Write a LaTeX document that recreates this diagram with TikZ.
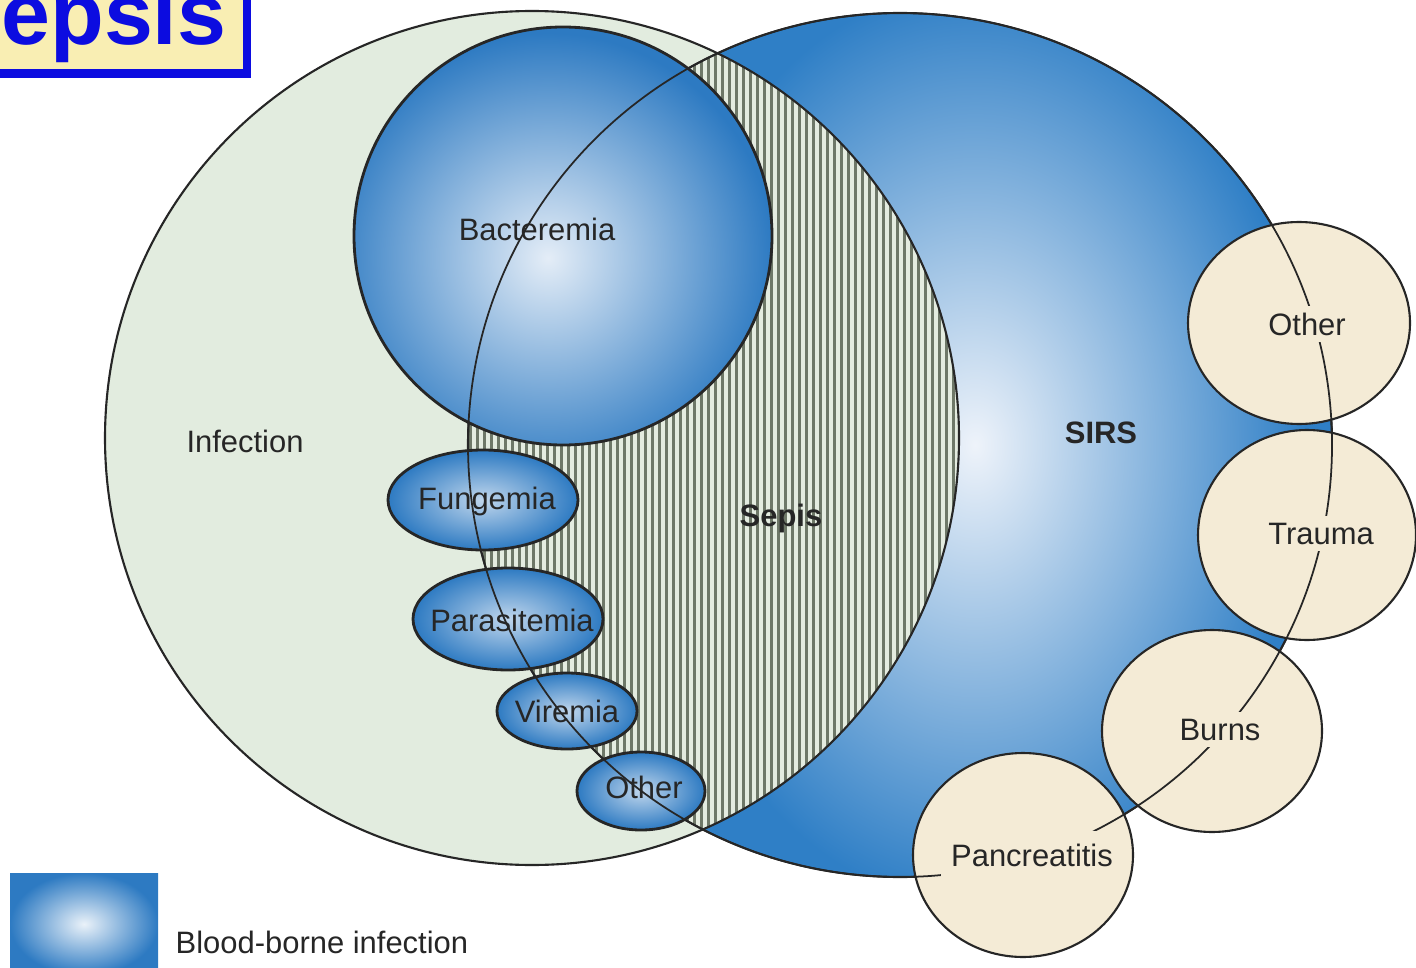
\documentclass[tikz,border=0pt]{standalone}
\usepackage{fontspec}
\setmainfont{Liberation Sans}
\definecolor{infgreen}{HTML}{E2ECDF}
\definecolor{sirsblue}{HTML}{2F7FC6}
\definecolor{sirslight}{HTML}{EEF3FA}
\definecolor{ballblue}{HTML}{2D7AC2}
\definecolor{balllight}{HTML}{E4EDF7}
\definecolor{beige}{HTML}{F4EBD6}
\definecolor{stripedark}{HTML}{6E7868}
\definecolor{stripelight}{HTML}{E4ECE0}
\definecolor{titleyellow}{HTML}{F9EEB3}
\definecolor{titleblue}{HTML}{0C0CE0}
\definecolor{outline}{HTML}{262626}
\begin{document}
\begin{tikzpicture}[x=0.01cm,y=-0.01cm,
  lbl/.style={font=\fontsize{8.8pt}{10pt}\selectfont, text=black!85, inner sep=0pt, anchor=base},
  blbl/.style={lbl, font=\fontsize{8.8pt}{10pt}\selectfont\bfseries},
  rlbl/.style={lbl, fill=beige, inner sep=2pt},
  edge/.style={draw=outline, line width=0.6pt}]
\useasboundingbox (0,0) rectangle (1416,967);
\fill[white] (0,0) rectangle (1416,967);
% SIRS circle
\fill[sirsblue] (900,445) circle (432);
\begin{scope}
  \clip (900,445) circle (432);
  \shade[inner color=sirslight, outer color=sirsblue] (975,445) ellipse (330 and 460);
\end{scope}
% Infection circle
\fill[infgreen] (532,438) circle (427);
% Sepsis hatching (intersection)
\begin{scope}
  \clip (900,445) circle (432);
  \clip (532,438) circle (427);
  \fill[stripelight] (450,0) rectangle (970,967);
  \foreach \x in {462,469,...,962} \fill[stripedark] (\x,0) rectangle ++(2.6,967);
\end{scope}
\draw[edge] (532,438) circle (427);
\draw[edge] (900,445) circle (432);
% non-infectious causes
\filldraw[edge, fill=beige] (1299,323) ellipse (111 and 101);
\filldraw[edge, fill=beige] (1307,535) ellipse (109 and 105);
\filldraw[edge, fill=beige] (1212,731) ellipse (110 and 101);
\filldraw[edge, fill=beige] (1023,855) ellipse (110 and 102);
% Bacteremia
\begin{scope}
  \clip (563,236) circle (209);
  \fill[ballblue] (563,236) circle (209);
  \shade[inner color=balllight, outer color=ballblue] (548,258) circle (225);
\end{scope}
\draw[edge, line width=0.8pt] (563,236) circle (209);
% small blood-borne ellipses
\shade[inner color=balllight!80!ballblue, outer color=ballblue] (483,500) ellipse (95 and 50);
\draw[edge, line width=0.8pt] (483,500) ellipse (95 and 50);
\shade[inner color=balllight!80!ballblue, outer color=ballblue] (508,619) ellipse (95 and 51);
\draw[edge, line width=0.8pt] (508,619) ellipse (95 and 51);
\shade[inner color=balllight!80!ballblue, outer color=ballblue] (567,711) ellipse (70 and 38);
\draw[edge, line width=0.8pt] (567,711) ellipse (70 and 38);
\shade[inner color=balllight!80!ballblue, outer color=ballblue] (641,791) ellipse (64 and 39);
\draw[edge, line width=0.8pt] (641,791) ellipse (64 and 39);
% SIRS boundary over everything
\draw[edge, line width=0.5pt] (900,445) circle (432);
% labels
\node[lbl] (infection) at (245,452) {Infection};
\node[lbl] (bact) at (537,241) {Bacteremia};
\node[lbl] (fung) at (487,509) {Fungemia};
\node[lbl] (para) at (512,631) {Parasitemia};
\node[lbl] (vir) at (567,722) {Viremia};
\node[lbl] (otherl) at (644,798) {Other};
\node[blbl] (sepis) at (781,526) {Sepis};
\node[blbl] (sirs) at (1101,443) {SIRS};
\node[rlbl] (otherr) at (1307,335) {Other};
\node[rlbl] (trauma) at (1321,544) {Trauma};
\node[rlbl] (burns) at (1220,740) {Burns};
\node[rlbl, inner xsep=3pt, inner ysep=3.5pt] (panc) at (1032,866) {Pancreatitis};
% legend
\shade[inner color=white!90!ballblue, outer color=ballblue] (10,873) rectangle (158,975);
\node[lbl, anchor=base west] (legend) at (175,953) {Blood-borne infection};
% title box
\filldraw[fill=titleyellow, draw=titleblue, line width=2.3pt] (-30,-30) rectangle (247,73.5);
\node[font=\fontsize{25pt}{27pt}\selectfont\bfseries, text=titleblue, anchor=base east, inner sep=0pt] (title) at (227,45) {epsis};
\end{tikzpicture}
\end{document}
